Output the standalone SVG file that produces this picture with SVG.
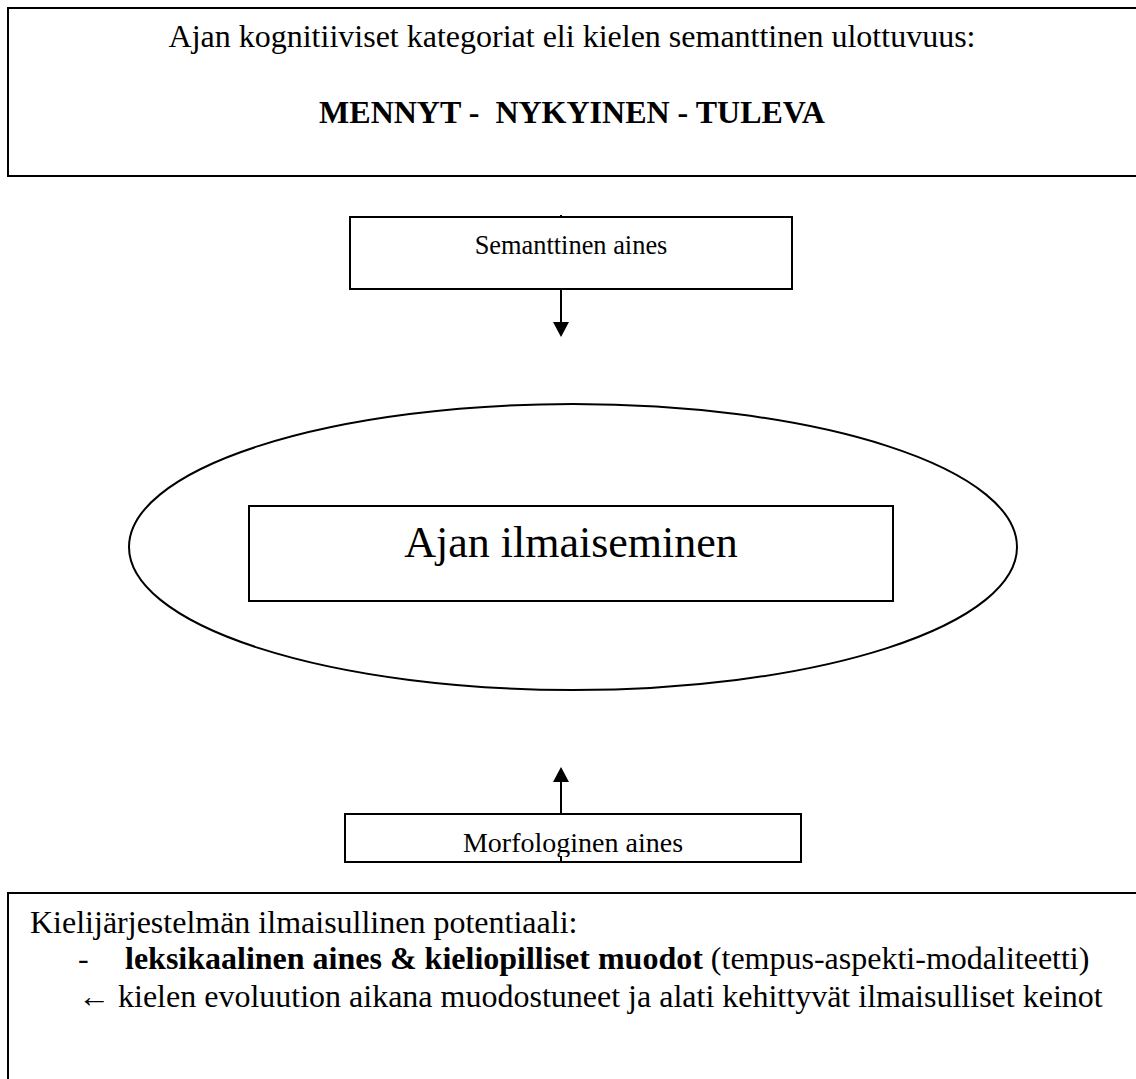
<svg xmlns="http://www.w3.org/2000/svg" width="1136" height="1079" viewBox="0 0 1136 1079">
<style>
.box{fill:#fff;stroke:#000;stroke-width:2}
.line{stroke:#000;stroke-width:2;fill:none}
.head{fill:#000;stroke:none}
text{font-family:"Liberation Serif","Times New Roman",serif;fill:#000}
.t12{font-size:32px}
.t10{font-size:26.4px}
.t11{font-size:28px}
.big{font-size:44px}
.b{font-weight:bold}
</style>
<defs>
<clipPath id="morfClip"><rect x="345" y="814" width="456" height="43"/></clipPath>
</defs>
<rect width="1136" height="1079" fill="#fff"/>

<g id="connectors">
<line class="line" x1="561" y1="215" x2="561" y2="323"/>
<polygon class="head" points="553,322 569,322 561,337"/>
<line class="line" x1="561" y1="862" x2="561" y2="781"/>
<polygon class="head" points="553,782 569,782 561,767"/>
</g>

<g id="node-top">
<rect class="box" x="8" y="8" width="1140" height="168"/>
<text class="t12" x="572" y="47" text-anchor="middle">Ajan kognitiiviset kategoriat eli kielen semanttinen ulottuvuus:</text>
<text class="t12 b" x="572" y="123" text-anchor="middle" xml:space="preserve">MENNYT -  NYKYINEN - TULEVA</text>
</g>

<g id="node-semanttinen">
<rect class="box" x="350" y="217" width="442" height="72"/>
<text class="t10" x="571" y="254" text-anchor="middle">Semanttinen aines</text>
</g>

<g id="node-ellipse">
<ellipse class="line" cx="573" cy="547" rx="444" ry="143"/>
</g>

<g id="node-ajan">
<rect class="box" x="249" y="506" width="644" height="95"/>
<text class="big" x="571" y="557" text-anchor="middle">Ajan ilmaiseminen</text>
</g>

<g id="node-morfologinen">
<rect x="345" y="814" width="456" height="42" fill="#fff"/>
<rect class="line" x="345" y="814" width="456" height="48"/>
<text class="t11" x="573" y="852" text-anchor="middle" clip-path="url(#morfClip)">Morfologinen aines</text>
</g>

<g id="node-bottom">
<rect class="box" x="8" y="893" width="1140" height="200"/>
<text class="t12" x="30" y="933">Kielijärjestelmän ilmaisullinen potentiaali:</text>
<text class="t12" x="78" y="969">-</text>
<text class="t12" x="125" y="969"><tspan class="b">leksikaalinen aines &amp; kieliopilliset muodot</tspan> (tempus-aspekti-modaliteetti)</text>
<text class="t12" x="78" y="1007">←</text>
<text class="t12" x="118" y="1007">kielen evoluution aikana muodostuneet ja alati kehittyvät ilmaisulliset keinot</text>
</g>
</svg>
